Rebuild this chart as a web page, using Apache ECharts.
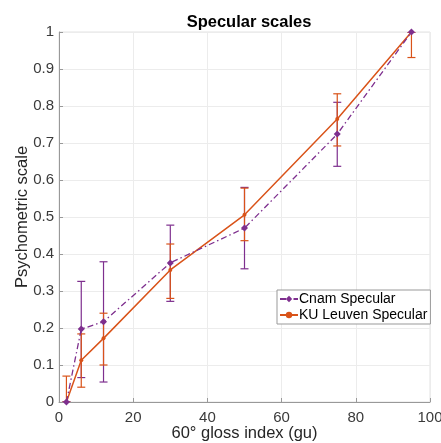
<!DOCTYPE html>
<html><head><meta charset="utf-8">
<script src="https://cdn.jsdelivr.net/npm/echarts@6/dist/echarts.min.js"></script>
<style>html,body{margin:0;padding:0;background:#fff}#c{width:441px;height:443px}</style>
</head><body><div id="c"></div>
<script>
const glossX = [2, 6, 12, 30, 50, 75, 95];
const cnamY  = [0, 0.197, 0.217, 0.376, 0.470, 0.724, 1.0];
const cnamLo = [0, 0.066, 0.054, 0.272, 0.360, 0.637, 1.0];
const cnamHi = [0, 0.326, 0.379, 0.478, 0.580, 0.810, 1.0];
const kuY    = [0, 0.113, 0.172, 0.357, 0.506, 0.765, 1.0];
const kuLo   = [0, 0.040, 0.100, 0.280, 0.436, 0.692, 0.931];
const kuHi   = [0.070, 0.184, 0.240, 0.427, 0.578, 0.833, 1.0];
const xTicks = [0, 20, 40, 60, 80, 100];
const yTicks = [0, 0.1, 0.2, 0.3, 0.4, 0.5, 0.6, 0.7, 0.8, 0.9, 1];

const purple = '#7E2F8E', orange = '#D95319';
function errData(lo, hi){ return glossX.map((x,i)=>[x, lo[i], hi[i]]); }
function errSeries(name, lo, hi, color){
  return {
    type:'custom', name: name+'_err', data: errData(lo,hi), z: 3, silent:true,
    clip:true,
    renderItem: function(params, api){
      const x = api.value(0);
      const p1 = api.coord([x, api.value(1)]);
      const p2 = api.coord([x, api.value(2)]);
      const w = 4;
      const st = {stroke: color, lineWidth: 1.2};
      return {type:'group', children:[
        {type:'line', shape:{x1:p1[0], y1:p1[1], x2:p2[0], y2:p2[1]}, style:st},
        {type:'line', shape:{x1:p1[0]-w, y1:p1[1], x2:p1[0]+w, y2:p1[1]}, style:st},
        {type:'line', shape:{x1:p2[0]-w, y1:p2[1], x2:p2[0]+w, y2:p2[1]}, style:st}
      ]};
    }
  };
}
const F = 'Liberation Sans';
const chart = echarts.init(document.getElementById('c'));
chart.setOption({
  animation:false,
  title:{text:'Specular scales', left: 244, top: 9, textAlign:'center',
    textStyle:{fontFamily:F, fontSize:16.5, fontWeight:'bold', color:'#000'}},
  grid:{left:59, right:11, top:32, bottom:41, show:true, borderColor:'#e2e2e2', borderWidth:1,
    containLabel:false, outerBoundsMode:'none'},
  legend:{
    data:['Cnam Specular','KU Leuven Specular'],
    orient:'vertical', left:277, top:290, itemGap:2, itemWidth:18, itemHeight:8,
    backgroundColor:'#fff', borderColor:'#999', borderWidth:1, padding:[2,3,2,2],
    textStyle:{fontFamily:F, fontSize:14, color:'#000', padding:[0,0,0,-4]}
  },
  xAxis:{type:'value', min:0, max:100, interval:20,
    name:'60° gloss index (gu)', nameLocation:'middle', nameGap:23, nameMoveOverlap:false,
    nameTextStyle:{fontFamily:F, fontSize:16.5, color:'#262626'},
    axisLine:{lineStyle:{color:'#999'}}, axisTick:{inside:true, length:4, lineStyle:{color:'#999'}},
    axisLabel:{fontFamily:F, fontSize:15, color:'#3a3a3a', margin:8,
      formatter:v=>xTicks.includes(v)?String(v):''},
    splitLine:{show:true, lineStyle:{color:'#ececec'}}},
  yAxis:{type:'value', min:0, max:1, interval:0.1,
    name:'Psychometric scale', nameLocation:'middle', nameGap:28, nameRotate:90, nameMoveOverlap:false,
    nameTextStyle:{fontFamily:F, fontSize:16.5, color:'#262626'},
    axisLine:{show:true, lineStyle:{color:'#999'}}, axisTick:{show:true, inside:true, length:4, lineStyle:{color:'#999'}},
    axisLabel:{fontFamily:F, fontSize:15, color:'#3a3a3a', margin:5,
      formatter:v=>{const r=Math.round(v*10)/10; return yTicks.includes(r)?String(r):'';}},
    splitLine:{show:true, lineStyle:{color:'#ececec'}}},
  series:[
    errSeries('Cnam Specular', cnamLo, cnamHi, purple),
    errSeries('KU Leuven Specular', kuLo, kuHi, orange),
    {type:'line', name:'Cnam Specular', data: glossX.map((x,i)=>[x,cnamY[i]]),
      symbol:'diamond', symbolSize:7, z:5,
      lineStyle:{color:purple, width:1.3, type:[6,3,1.5,3]}, itemStyle:{color:purple}},
    {type:'line', name:'KU Leuven Specular', data: glossX.map((x,i)=>[x,kuY[i]]),
      symbol:'circle', symbolSize:4, z:4,
      lineStyle:{color:orange, width:1.5}, itemStyle:{color:orange}}
  ]
});
</script></body></html>
